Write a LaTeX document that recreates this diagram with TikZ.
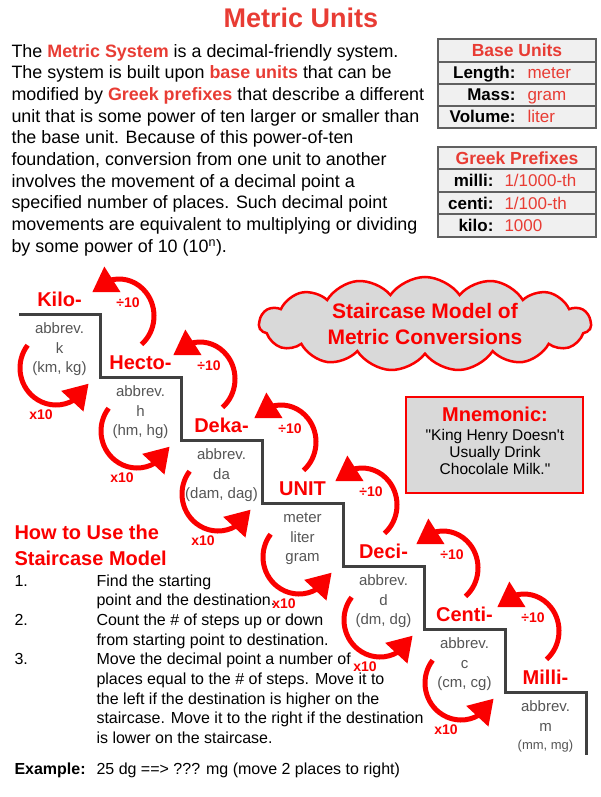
\documentclass[tikz,border=0pt]{standalone}
\usepackage{fontspec}
\setmainfont{Liberation Sans}
\usetikzlibrary{arrows.meta,bending,shapes.symbols}

\definecolor{titlered}{RGB}{232,60,52}
\definecolor{stepred}{RGB}{250,0,0}
\definecolor{stairgray}{RGB}{64,64,64}
\definecolor{infogray}{RGB}{85,85,85}
\definecolor{cellgray}{RGB}{240,240,240}
\definecolor{cloudgray}{RGB}{217,217,217}

\newcommand{\keyword}[1]{\textcolor{titlered}{\bfseries #1}}

\tikzset{
  stair/.style={draw=stairgray, line width=3pt},
  stepname/.style={text=stepred, anchor=base, font=\fontsize{20}{20}\selectfont\bfseries},
  stepinfo/.style={text=infogray, anchor=base, align=center, font=\fontsize{15}{19.5}\selectfont},
  divarrow/.style={draw=stepred, line width=5pt, -{Triangle[length=24pt,width=29pt]}},
  factor/.style={text=stepred, font=\fontsize{14}{14}\selectfont\bfseries},
  cell/.style={draw=gray!75!black, fill=cellgray, line width=1.2pt},
  cellkey/.style={anchor=base east, font=\fontsize{17}{17}\selectfont\bfseries},
  cellval/.style={anchor=base west, text=titlered, font=\fontsize{17}{17}\selectfont},
  cellhead/.style={anchor=base, text=titlered, font=\fontsize{17.5}{17.5}\selectfont\bfseries},
  bodytext/.style={anchor=base west, align=left, font=\fontsize{16}{19.7}\selectfont}
}

\begin{document}
\begin{tikzpicture}[x=1pt,y=1pt]
    \useasboundingbox (0,0) rectangle (600,-797);

    % Title
    \node (title) at (301,-18) [text=titlered, font=\fontsize{27}{27}\selectfont\bfseries] {Metric Units};

    % Introduction (placed by the baseline of its last line)
    \node (intro) at (8,-252.3) [anchor=base west, align=left, font=\fontsize{17.9}{21.7}\selectfont]
        {The \keyword{Metric System} is a decimal-friendly system.\\
         The system is built upon \keyword{base units} that can be\\
         modified by \keyword{Greek prefixes} that describe a different\\
         unit that is some power of ten larger or smaller than\\
         the base unit. Because of this power-of-ten\\
         foundation, conversion from one unit to another\\
         involves the movement of a decimal point a\\
         specified number of places. Such decimal point\\
         movements are equivalent to multiplying or dividing\\
         by some power of 10 (10\textsuperscript{n}).};

    % Base units table
    \foreach \top/\bot in {39/62, 62/84, 84/106, 106/128}
        \draw[cell] (438,-\top) rectangle (596,-\bot);
    \node (basehead) at (517,-56.5) [cellhead] {Base Units};
    \node (length) at (519,-79) [cellkey] {Length:};
    \node (meter) at (524,-79) [cellval] {meter};
    \node (mass) at (519,-101) [cellkey] {Mass:};
    \node (gram) at (524,-101) [cellval] {gram};
    \node (volume) at (519,-123) [cellkey] {Volume:};
    \node (liter) at (524,-123) [cellval] {liter};

    % Greek prefixes table
    \foreach \top/\bot in {147/169, 169/192, 192/214, 214/237}
        \draw[cell] (438,-\top) rectangle (596,-\bot);
    \node (greekhead) at (517,-164.5) [cellhead] {Greek Prefixes};
    \node (milliname) at (497,-186.5) [cellkey] {milli:};
    \node (millival) at (501,-186.5) [cellval] {1/1000-th};
    \node (centiname) at (497,-209) [cellkey] {centi:};
    \node (centival) at (501,-209) [cellval] {1/100-th};
    \node (kiloname) at (497,-231.5) [cellkey] {kilo:};
    \node (kiloval) at (501,-231.5) [cellval] {1000};

    % Cloud
    \node (cloud) at (425,-324) [cloud, cloud puffs=15, cloud puff arc=110, aspect=4.2,
        minimum width=332pt, minimum height=80pt, inner sep=0pt, draw=stepred, fill=cloudgray,
        line width=2.5pt, text=stepred, align=center, font=\fontsize{21}{26}\selectfont\bfseries]
        {Staircase Model of\\Metric Conversions};

    % Mnemonic box
    \draw[draw=stepred, fill=cloudgray, line width=2pt] (406,-397) rectangle (583,-493);
    \node (mnemonic) at (495,-421.5) [anchor=base, text=stepred, font=\fontsize{20}{20}\selectfont\bfseries] {Mnemonic:};
    \node (phrase) at (495,-474) [anchor=base, align=center, font=\fontsize{15.5}{17}\selectfont]
        {\textquotedbl King Henry Doesn\textquotesingle t\\Usually Drink\\Chocolale Milk.\textquotedbl};

    % Staircase
    \draw[stair] (19,-314) -| (100,-377) -| (181,-440) -| (262,-503) -| (343,-566)
        -| (424,-629) -| (505,-692) -| (586,-755);

    % Step names and abbreviations
    \foreach \name/\pre/\one/\two/\three [count=\i from 0] in
        {kilo/Kilo-/abbrev./k/{(km, kg)}, hecto/Hecto-/abbrev./h/{(hm, hg)},
         deka/Deka-/abbrev./da/{(dam, dag)}, unit/UNIT/meter/liter/gram,
         deci/Deci-/abbrev./d/{(dm, dg)}, centi/Centi-/abbrev./c/{(cm, cg)}}
    {
        \node (\name) at (59.5+81*\i,-306-63*\i) [stepname] {\pre};
        \node (\name info) at (59.5+81*\i,-372.5-63*\i) [stepinfo] {\one\\\two\\\three};
    }
    \node (milli) at (545.5,-684) [stepname] {Milli-};
    \node (milliinfo) at (545.5,-731) [stepinfo] {abbrev.\\m};
    \node (millipair) at (545.5,-749) [stepinfo, font=\fontsize{13}{13}\selectfont] {(mm, mg)};

    % Conversion arrows
    \foreach \i in {0,...,5}
    {
        \coordinate (divc\i) at (119+81*\i,-316-63*\i);
        \coordinate (mulc\i) at (56+81*\i,-368-63*\i);
        \draw[divarrow] ([shift={(-50:35 and 37)}]divc\i) arc[start angle=-50, end angle=140, x radius=35, y radius=37];
        \draw[divarrow] ([shift={(142:36 and 37)}]mulc\i) arc[start angle=142, end angle=335, x radius=36, y radius=37];
        \node (div\i) at (128+81*\i,-303-63*\i) [factor] {÷10};
        \node (mul\i) at (41+81*\i,-415-63*\i) [factor] {x10};
    }

    % How to use (placed by the baseline of the last line)
    \node (howto) at (11,-565) [anchor=base west, align=left, text=stepred,
        font=\fontsize{20}{26}\selectfont\bfseries] {How to Use the\\Staircase Model};
    \node (num1) at (11,-586) [bodytext] {1.};
    \node (num2) at (11,-625.4) [bodytext] {2.};
    \node (num3) at (11,-664.8) [bodytext] {3.};
    \node (steps) at (93,-743.6) [bodytext]
        {Find the starting\\
         point and the destination.\\
         Count the \# of steps up or down\\
         from starting point to destination.\\
         Move the decimal point a number of\\
         places equal to the \# of steps. Move it to\\
         the left if the destination is higher on the\\
         staircase. Move it to the right if the destination\\
         is lower on the staircase.};

    % Example
    \node (example) at (11,-774) [bodytext] {\bfseries Example:};
    \node (exampletext) at (93,-774) [bodytext] {25 dg ==> ??? mg (move 2 places to right)};
\end{tikzpicture}
\end{document}
